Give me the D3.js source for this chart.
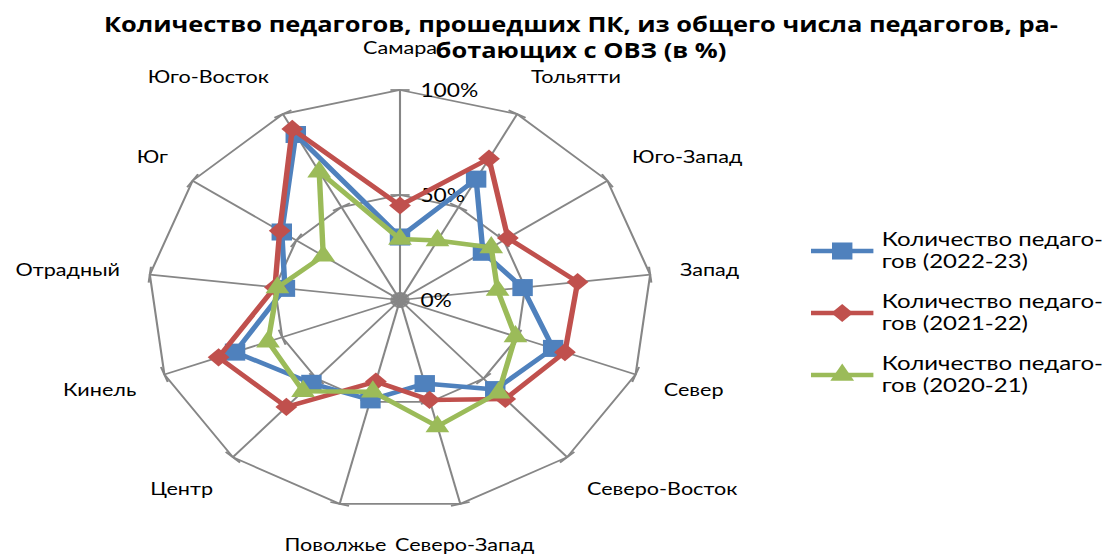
<!DOCTYPE html>
<html>
<head>
<meta charset="utf-8">
<script src="https://cdn.jsdelivr.net/npm/d3@7"></script>
<style>
    html, body { margin: 0; padding: 0; background: #fff; }
    text { font-family: Lato, "Open Sans", sans-serif; fill: #000; }
</style>
</head>
<body>
<div id="chart"></div>
<script>

var categories = ["Самара", "Тольятти", "Юго-Запад", "Запад", "Север", "Северо-Восток",
    "Северо-Запад", "Поволжье", "Центр", "Кинель", "Отрадный", "Юг", "Юго-Восток"];

var values2223 = [30, 65, 40, 49, 65, 57, 41, 49, 53, 70, 46, 57, 89];
var values2122 = [45, 76, 52, 71, 70, 63, 49, 40, 68, 77, 50, 58, 92];
var values2021 = [29, 32, 44, 39, 49, 59, 62, 45, 58, 56, 49, 37, 69];

var seriesNames = ["Количество педаго-|гов (2022-23)", "Количество педаго-|гов (2021-22)", "Количество педаго-|гов (2020-21)"];

var tickValues = [0, 50, 100];
var tickLabels = ["0%", "50%", "100%"];

var titleLines = ["Количество педагогов, прошедших ПК, из общего числа педагогов, ра-", "ботающих с ОВЗ (в %)"];

var width = 1107,
    height = 554,
    stretch = 1.2;

var cx = 400 / stretch,
    cy = 300,
    radius = 210;

var colors = ["#4F81BD", "#C0504D", "#9BBB59"];
var gridColor = "#868686";

var series = [values2223, values2122, values2021].map(function(vals, i) {
    return { name: seriesNames[i], values: vals, color: colors[i], shape: i };
});

var r = d3.scaleLinear().domain([0, 100]).range([0, radius]);
var angle = d3.scaleLinear().domain([0, categories.length]).range([0, 2 * Math.PI]);

function px(i, v) { return cx + r(v) * Math.sin(angle(i)); }
function py(i, v) { return cy - r(v) * Math.cos(angle(i)); }

var svg = d3.select("#chart").append("svg")
    .attr("width", width)
    .attr("height", height);

var root = svg.append("g")
    .attr("transform", "scale(" + stretch + ",1)");

// grid polygons
var grid = root.append("g").attr("class", "grid");

grid.selectAll("path.ring")
    .data(tickValues.filter(function(t) { return t > 0; }))
    .enter().append("path")
    .attr("class", "ring")
    .attr("fill", "none")
    .attr("stroke", gridColor)
    .attr("stroke-width", 1.75)
    .attr("d", function(t) {
        return d3.line()(categories.map(function(c, i) { return [px(i, t), py(i, t)]; })) + "Z";
    });

grid.selectAll("line.spoke")
    .data(categories)
    .enter().append("line")
    .attr("class", "spoke")
    .attr("stroke", gridColor)
    .attr("stroke-width", 1.75)
    .attr("x1", cx).attr("y1", cy)
    .attr("x2", function(d, i) { return px(i, 100); })
    .attr("y2", function(d, i) { return py(i, 100); });

// tick marks across each spoke
var ticks = [];
categories.forEach(function(c, i) {
    tickValues.forEach(function(t) { ticks.push({ i: i, t: t }); });
});

grid.selectAll("line.tick")
    .data(ticks)
    .enter().append("line")
    .attr("class", "tick")
    .attr("stroke", gridColor)
    .attr("stroke-width", 1.75)
    .attr("x1", function(d) { return px(d.i, d.t) - 8 * Math.cos(angle(d.i)); })
    .attr("y1", function(d) { return py(d.i, d.t) - 8 * Math.sin(angle(d.i)); })
    .attr("x2", function(d) { return px(d.i, d.t) + 8 * Math.cos(angle(d.i)); })
    .attr("y2", function(d) { return py(d.i, d.t) + 8 * Math.sin(angle(d.i)); });

// value labels
root.append("g").selectAll("text")
    .data(tickValues)
    .enter().append("text")
    .attr("x", cx + 17)
    .attr("y", function(t) { return cy - r(t); })
    .attr("dy", "0.35em")
    .style("font-size", "19px")
    .text(function(t, i) { return tickLabels[i]; });

// category labels
root.append("g").selectAll("text")
    .data(categories)
    .enter().append("text")
    .attr("x", function(d, i) {
        var s = Math.sin(angle(i));
        return cx + (Math.abs(s) < 0.3 ? 225 : 235) * s;
    })
    .attr("y", function(d, i) { return cy - 252 * Math.cos(angle(i)); })
    .attr("dy", "0.35em")
    .attr("text-anchor", function(d, i) {
        var s = Math.sin(angle(i));
        return Math.abs(s) < 0.3 ? "middle" : (s > 0 ? "start" : "end");
    })
    .style("font-size", "18px")
    .text(function(d) { return d; });

// markers
function markerPath(shape) {
    if (shape === 0) return d3.symbol().type(d3.symbolSquare).size(290)();
    if (shape === 1) return d3.symbol().type(d3.symbolSquare).size(165)();
    return d3.symbol().type(d3.symbolTriangle).size(170)();
}

var lines = root.append("g").attr("class", "series");

var seriesG = lines.selectAll("g")
    .data(series)
    .enter().append("g");

seriesG.append("path")
    .attr("fill", "none")
    .attr("stroke", function(d) { return d.color; })
    .attr("stroke-width", 4.5)
    .attr("stroke-linejoin", "round")
    .attr("d", function(d) {
        return d3.line()(d.values.map(function(v, i) { return [px(i, v), py(i, v)]; })) + "Z";
    });

seriesG.selectAll("path.marker")
    .data(function(d) {
        return d.values.map(function(v, i) { return { i: i, v: v, color: d.color, shape: d.shape }; });
    })
    .enter().append("path")
    .attr("class", "marker")
    .attr("fill", function(d) { return d.color; })
    .attr("d", function(d) { return markerPath(d.shape); })
    .attr("transform", function(d) {
        return "translate(" + px(d.i, d.v) + "," + py(d.i, d.v) + ")" + (d.shape === 1 ? " rotate(45)" : "");
    });

// title
root.append("g").selectAll("text")
    .data(titleLines)
    .enter().append("text")
    .attr("x", 581 / stretch)
    .attr("y", function(d, i) { return 32 + i * 26; })
    .attr("text-anchor", "middle")
    .style("font-family", "'Open Sans', Lato, sans-serif")
    .style("font-size", "21.2px")
    .style("font-weight", "bold")
    .text(function(d) { return d; });

// legend
var legend = root.append("g")
    .attr("transform", "translate(" + (811 / stretch) + ",251)");

var item = legend.selectAll("g")
    .data(series)
    .enter().append("g")
    .attr("transform", function(d, i) { return "translate(0," + (i * 62) + ")"; });

item.append("line")
    .attr("x1", 0).attr("x2", 52)
    .attr("stroke", function(d) { return d.color; })
    .attr("stroke-width", 4.5);

item.append("path")
    .attr("fill", function(d) { return d.color; })
    .attr("d", function(d) { return markerPath(d.shape); })
    .attr("transform", function(d) { return "translate(26,0)" + (d.shape === 1 ? " rotate(45)" : ""); });

item.append("text")
    .attr("x", 59)
    .attr("y", -5)
    .style("font-size", "20px")
    .selectAll("tspan")
    .data(function(d) { return d.name.split("|"); })
    .enter().append("tspan")
    .attr("x", 59)
    .attr("dy", function(d, i) { return i === 0 ? 0 : 22; })
    .text(function(d) { return d; });

</script>
</body>
</html>
